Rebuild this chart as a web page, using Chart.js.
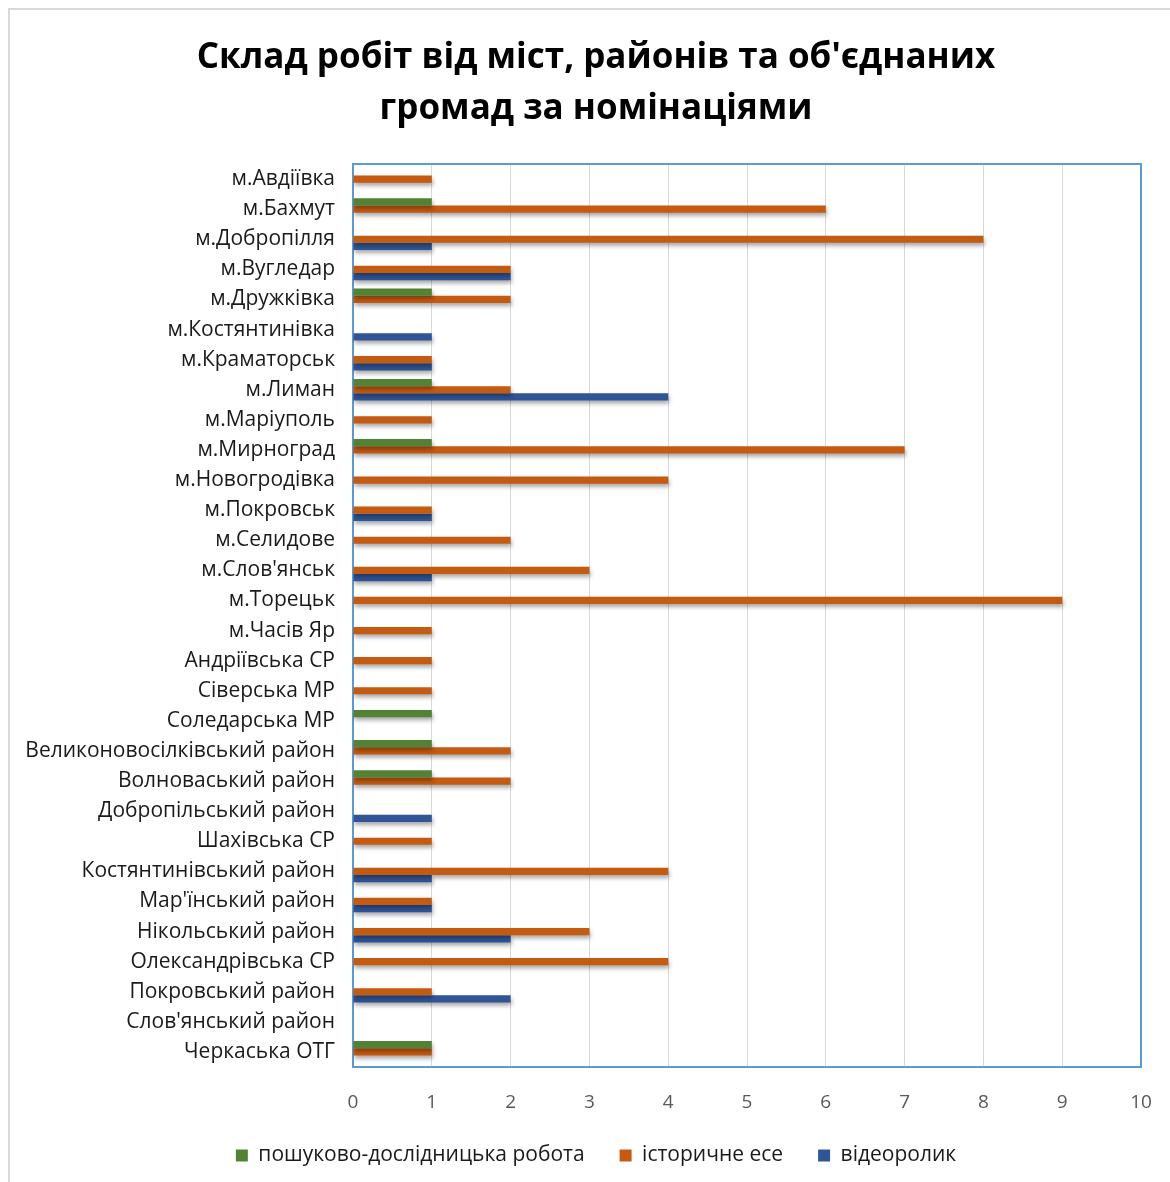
<!DOCTYPE html>
<html>
<head>
<meta charset="utf-8">
<script src="https://cdn.jsdelivr.net/npm/chart.js@4.4.1/dist/chart.umd.min.js"></script>
<style>
html,body{margin:0;padding:0;background:#fff;overflow:hidden;}
#wrap{position:relative;width:1170px;height:1182px;}
#frame{position:absolute;left:8px;top:8px;width:1200px;height:1200px;border-left:2px solid #d9d9d9;border-top:2px solid #d9d9d9;box-sizing:border-box;pointer-events:none;}
canvas{position:absolute;left:0;top:0;}
</style>
</head>
<body>
<div id="wrap">
<div id="frame"></div>
<canvas id="c" width="1170" height="1182"></canvas>
</div>
<script>
const categories = [
  "м.Авдіївка","м.Бахмут","м.Добропілля","м.Вугледар","м.Дружківка","м.Костянтинівка",
  "м.Краматорськ","м.Лиман","м.Маріуполь","м.Мирноград","м.Новогродівка","м.Покровськ",
  "м.Селидове","м.Слов'янськ","м.Торецьк","м.Часів Яр","Андріївська СР","Сіверська МР",
  "Соледарська МР","Великоновосілківський район","Волноваський район","Добропільський район",
  "Шахівська СР","Костянтинівський район","Мар'їнський район","Нікольський район",
  "Олександрівська СР","Покровський район","Слов'янський район","Черкаська ОТГ"
];
const seriesNames = ["пошуково-дослідницька робота","історичне есе","відеоролик"];
const research = [0,1,0,0,1,0, 0,1,0,1,0,0, 0,0,0,0,0,0, 1,1,1,0, 0,0,0,0, 0,0,0,1];
const essay    = [1,6,8,2,2,0, 1,2,1,7,4,1, 2,3,9,1,1,1, 0,2,2,0, 1,4,1,3, 4,1,0,1];
const video    = [0,0,1,2,0,1, 1,4,0,0,0,1, 0,1,0,0,0,0, 0,0,0,1, 0,1,1,2, 0,2,0,0];
const xTicks = [0,1,2,3,4,5,6,7,8,9,10];
const titleLines = ["Склад робіт від міст, районів та об'єднаних","громад за номінаціями"];

const colors = ["#548235","#C55A11","#2F5597"];

const plotFrame = {
  id:'plotFrame',
  beforeDatasetsDraw(chart){
    const a = chart.chartArea, ctx = chart.ctx;
    ctx.save();
    ctx.strokeStyle = '#5B9BD5';
    ctx.lineWidth = 2;
    ctx.strokeRect(a.left, a.top, a.right - a.left, a.bottom - a.top);
    ctx.shadowColor = 'rgba(0,0,0,0.35)';
    ctx.shadowBlur = 4;
    ctx.shadowOffsetX = 1;
    ctx.shadowOffsetY = 3;
  },
  afterDatasetsDraw(chart){
    chart.ctx.restore();
  }
};

new Chart(document.getElementById('c'), {
  type:'bar',
  data:{
    labels: categories,
    datasets:[
      {label:seriesNames[0], data:research, backgroundColor:colors[0]},
      {label:seriesNames[1], data:essay, backgroundColor:colors[1]},
      {label:seriesNames[2], data:video, backgroundColor:colors[2]}
    ]
  },
  options:{
    indexAxis:'y',
    responsive:false,
    animation:false,
    layout:{padding:{left:22,right:0,top:0,bottom:6}},
    datasets:{bar:{categoryPercentage:0.72,barPercentage:1.0,borderWidth:0}},
    scales:{
      x:{
        min:0,max:10,
        afterBuildTicks(s){ s.ticks = xTicks.map(v=>({value:v})); },
        afterFit(s){ s.height = 43; s.paddingRight = 0; s.paddingLeft = 0; },
        grid:{color:'#D9D9D9',lineWidth:1,drawTicks:false},
        border:{display:false},
        ticks:{color:'#595959',font:{family:'Open Sans',size:19},padding:24,maxRotation:0}
      },
      y:{
        afterFit(s){ s.width = 331; },
        grid:{display:false,drawTicks:false},
        border:{display:false},
        ticks:{color:'#1a1a1a',font:{family:'Open Sans',size:21},padding:18,autoSkip:false}
      },
      yr:{
        type:'linear',position:'right',axis:'y',
        afterFit(s){ s.width = 29; },
        grid:{display:false,drawTicks:false},
        border:{display:false},
        ticks:{display:false}
      }
    },
    plugins:{
      title:{
        display:true,
        text:titleLines,
        color:'#000',
        font:{family:'Open Sans',size:35,weight:'bold',lineHeight:1.457},
        padding:{top:33,bottom:29}
      },
      legend:{
        position:'bottom',
        labels:{
          color:'#1a1a1a',
          font:{family:'Open Sans',size:21},
          boxWidth:12,boxHeight:12,padding:35
        }
      },
      tooltip:{enabled:false}
    }
  },
  plugins:[plotFrame]
});
</script>
</body>
</html>
